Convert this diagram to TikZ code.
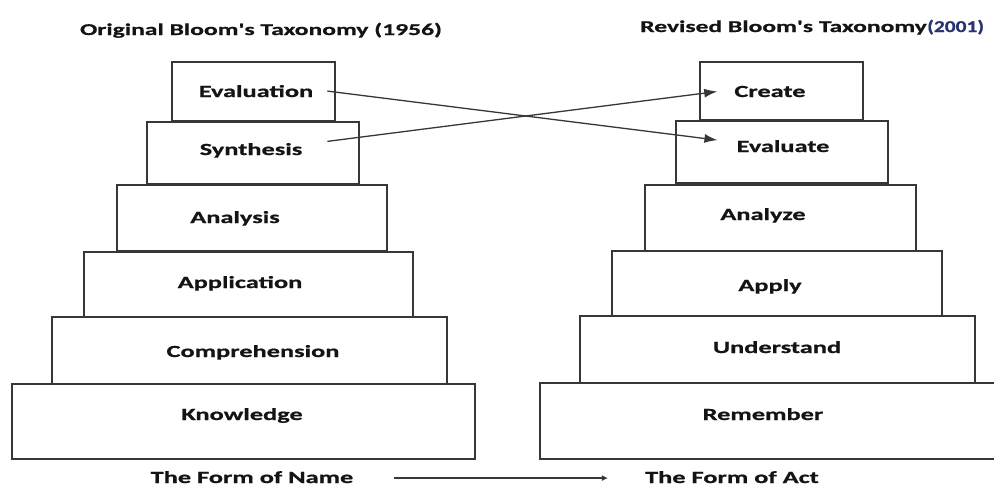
\documentclass[tikz,border=0pt]{standalone}
\usepackage{fontspec}
\usetikzlibrary{arrows.meta}
\newfontfamily\wf{Carlito}[FakeStretch=1.55,FakeBold=0.8]
\newfontfamily\yf{Carlito}[FakeStretch=1.3,FakeBold=0.8]
\definecolor{edge}{RGB}{55,55,55}
\definecolor{ink}{RGB}{20,20,20}
\definecolor{navy}{RGB}{40,52,115}
\tikzset{
  tier/.style={draw=edge, line width=1.8pt, rectangle, inner sep=0pt},
  lbl/.style={inner sep=0pt, anchor=base, text=ink, font=\wf\bfseries\fontsize{17}{17}\selectfont},
  ttl/.style={inner sep=0pt, anchor=base, text=ink, font=\wf\bfseries\fontsize{16.5}{16.5}\selectfont},
  arr/.style={draw=edge, line width=1.3pt, -{Latex[length=13pt,width=9pt]}},
  smallarr/.style={draw=edge, line width=1.3pt, -{Latex[length=6pt,width=6pt]}}
}
\newcommand{\tierbox}[5]{\node[tier, minimum width={#4-#2}, minimum height={#5-#3}] (#1) at ({(#2+#4)/2},{(#3+#5)/2}) {};}
\begin{document}
\begin{tikzpicture}[x=1pt,y=-1pt]
\useasboundingbox (0,0) rectangle (994,488);
\fill[white] (0,0) rectangle (994,488);
% left pyramid
\tierbox{knowB}{12}{384}{475}{459}
\tierbox{compB}{52}{317}{447}{384}
\tierbox{appB}{84}{252}{413}{317}
\tierbox{anaB}{117}{185}{387}{251}
\tierbox{synB}{147}{122}{359}{184}
\tierbox{evalB}{172}{62}{335}{121}
% right pyramid
\tierbox{remB}{540}{383}{1003}{459}
\tierbox{undB}{580}{316}{975}{383}
\tierbox{aplB}{612}{251}{942}{316}
\tierbox{anzB}{645}{185}{916}{251}
\tierbox{evaB}{676}{121}{888}{183}
\tierbox{creB}{700}{62}{863}{120}
% titles
\node[ttl] (tl) at (261,35) {Original Bloom's Taxonomy (1956)};
\node[ttl, anchor=base east] (tr) at (927,32) {Revised Bloom's Taxonomy};
\node[inner sep=0pt, anchor=base west, text=navy, font=\yf\bfseries\fontsize{16.5}{16.5}\selectfont] (yr) at (tr.base east) {(2001)};
% left labels
\node[lbl] (evT) at (256,97) {Evaluation};
\node[lbl] (synT) at (251,155) {Synthesis};
\node[lbl] (anaT) at (235,223) {Analysis};
\node[lbl] (appT) at (240,288) {Application};
\node[lbl] (compT) at (253,357) {Comprehension};
\node[lbl] (knowT) at (242,420) {Knowledge};
% right labels
\node[lbl] (creT) at (770,97) {Create};
\node[lbl] (evaT) at (783,152) {Evaluate};
\node[lbl] (anzT) at (763,220) {Analyze};
\node[lbl] (aplT) at (770,291) {Apply};
\node[lbl] (undT) at (777,353) {Understand};
\node[lbl] (remT) at (763,420) {Remember};
% bottom
\node[lbl] (nameT) at (252,483) {The Form of Name};
\node[lbl] (actT) at (732,483) {The Form of Act};
% connectors
\draw[arr] ([xshift=14pt]evT.east) -- ([xshift=-19pt,yshift=6pt]evaT.west);
\draw[arr] ([xshift=25pt,yshift=9pt]synT.east) -- ([xshift=-17pt]creT.west);
\draw[smallarr] ([xshift=40pt,yshift=-1pt]nameT.east) -- ([xshift=-37pt,yshift=-1pt]actT.west);
\end{tikzpicture}
\end{document}
